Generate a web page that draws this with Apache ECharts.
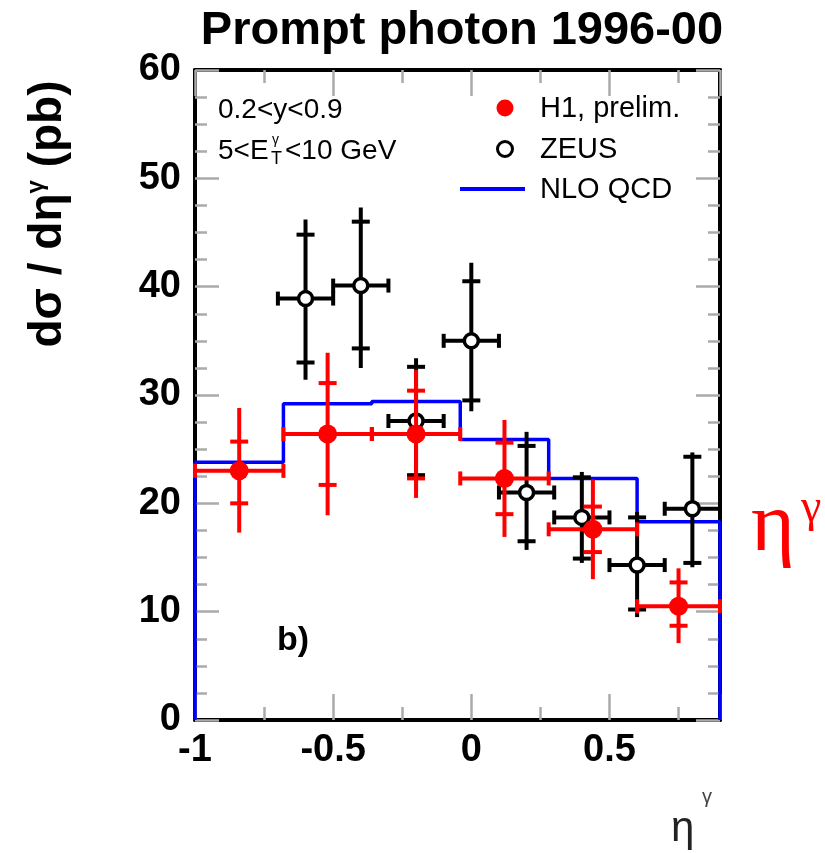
<!DOCTYPE html>
<html><head><meta charset="utf-8">
<script src="https://cdn.jsdelivr.net/npm/echarts@6/dist/echarts.min.js"></script>
<style>html,body{margin:0;padding:0;background:#fff}#c{width:825px;height:853px}</style>
</head><body><div id="c"></div>
<script>
// ---- data ----
const binEdges = [-1, -0.68, -0.36, -0.04, 0.28, 0.6, 0.9];
const nloValues = [23.8, 29.2, 29.4, 25.9, 22.3, 18.3];

const h1X = [-0.84, -0.52, -0.2, 0.12, 0.44, 0.75];
const h1Y = [23.0, 26.4, 26.4, 22.3, 17.6, 10.5];
const h1StatLo = [20.0, 21.7, 22.3, 19.0, 15.5, 8.7];
const h1StatHi = [25.7, 31.1, 30.4, 25.6, 19.7, 12.7];
const h1TotLo = [17.3, 18.9, 20.5, 16.9, 13.0, 7.1];
const h1TotHi = [28.8, 33.9, 32.3, 27.7, 22.2, 14.0];

const zeusX = [-0.6, -0.4, -0.2, 0.0, 0.2, 0.4, 0.6, 0.8];
const zeusXErr = [0.1, 0.1, 0.1, 0.1, 0.1, 0.1, 0.1, 0.1];
const zeusY = [38.9, 40.1, 27.6, 35.0, 21.0, 18.7, 14.3, 19.5];
const zeusStatLo = [33.0, 34.3, 22.6, 29.5, 16.5, 14.9, 10.2, 14.5];
const zeusStatHi = [44.8, 46.0, 32.6, 40.5, 25.3, 22.4, 18.7, 24.3];
const zeusTotLo = [31.4, 32.5, 21.2, 28.5, 15.7, 14.5, 9.5, 14.1];
const zeusTotHi = [46.2, 47.3, 33.4, 42.2, 26.6, 22.9, 19.2, 24.7];

const xMin = -1, xMax = 0.9, xStep = 0.5;
const yMin = 0, yMax = 60, yStep = 10;

// ---- build ----
const nloData = [[binEdges[0], 0]];
nloValues.forEach((v, i) => { nloData.push([binEdges[i], v]); nloData.push([binEdges[i + 1], v]); });
nloData.push([binEdges[binEdges.length - 1], 0]);

const h1Data = h1X.map((x, i) => [x, h1Y[i], binEdges[i], binEdges[i + 1], h1StatLo[i], h1StatHi[i], h1TotLo[i], h1TotHi[i]]);
const zeusData = zeusX.map((x, i) => [x, zeusY[i], x - zeusXErr[i], x + zeusXErr[i], zeusStatLo[i], zeusStatHi[i], zeusTotLo[i], zeusTotHi[i]]);

function makeRender(color, filled) {
  return function (params, api) {
    const x = api.value(0), y = api.value(1);
    const c = api.coord([x, y]);
    const pxl = api.coord([api.value(2), y])[0];
    const pxh = api.coord([api.value(3), y])[0];
    const psl = api.coord([x, api.value(4)])[1];
    const psh = api.coord([x, api.value(5)])[1];
    const ptl = api.coord([x, api.value(6)])[1];
    const pth = api.coord([x, api.value(7)])[1];
    const st = { stroke: color, lineWidth: 4 };
    const capH = 7, capW = 9;
    const L = (x1, y1, x2, y2) => ({ type: 'line', shape: { x1, y1, x2, y2 }, style: st });
    return {
      type: 'group',
      children: [
        L(pxl, c[1], pxh, c[1]),
        L(pxl, c[1] - capH, pxl, c[1] + capH),
        L(pxh, c[1] - capH, pxh, c[1] + capH),
        L(c[0], ptl, c[0], pth),
        L(c[0] - capW, psl, c[0] + capW, psl),
        L(c[0] - capW, psh, c[0] + capW, psh),
        filled
          ? { type: 'circle', shape: { cx: c[0], cy: c[1], r: 9.5 }, style: { fill: color } }
          : { type: 'circle', shape: { cx: c[0], cy: c[1], r: 7 }, style: { fill: '#fff', stroke: color, lineWidth: 3.5 } }
      ]
    };
  };
}

const sans = 'Liberation Sans, Arial, sans-serif';
const serif = 'Liberation Serif, Times New Roman, serif';
const tickStyle = { color: '#aaaaaa', width: 2.5 };
function xAx(pos, labels) {
  return {
    type: 'value', position: pos, min: xMin, max: xMax, interval: xStep,
    axisLine: { show: true, onZero: false, lineStyle: { color: '#000', width: 4 } },
    axisTick: { show: true, inside: true, length: 26, lineStyle: tickStyle },
    minorTick: { show: true, splitNumber: 2, length: 13, lineStyle: tickStyle },
    splitLine: { show: false },
    axisLabel: {
      show: labels, margin: 12, color: '#000', fontSize: 38, fontWeight: 'bold', fontFamily: sans,
      formatter: v => (Math.abs(v / xStep - Math.round(v / xStep)) < 1e-6 ? String(v) : '')
    }
  };
}
function yAx(pos, labels) {
  return {
    type: 'value', position: pos, min: yMin, max: yMax, interval: yStep,
    axisLine: { show: true, onZero: false, lineStyle: { color: '#000', width: 4 } },
    axisTick: { show: true, inside: true, length: 24, lineStyle: tickStyle },
    minorTick: { show: true, splitNumber: 4, length: 12, lineStyle: tickStyle },
    splitLine: { show: false },
    axisLabel: { show: labels, margin: 14, color: '#000', fontSize: 38, fontWeight: 'bold', fontFamily: sans }
  };
}

const chart = echarts.init(document.getElementById('c'), null, { renderer: 'canvas' });
chart.setOption({
  animation: false,
  backgroundColor: '#fff',
  title: {
    text: 'Prompt photon 1996-00', left: 457, top: 3, textAlign: 'center',
    textStyle: { fontSize: 47, fontWeight: 'bold', fontFamily: sans, color: '#000' }
  },
  grid: { left: 195, right: 105, top: 70, bottom: 133 },
  xAxis: [xAx('bottom', true), xAx('top', false)],
  yAxis: [yAx('left', true), yAx('right', false)],
  series: [
    { type: 'line', data: nloData, showSymbol: false, symbol: 'none', z: 2,
      lineStyle: { color: '#0000ff', width: 3.5 } },
    { type: 'custom', data: zeusData, renderItem: makeRender('#000000', false), z: 3,
      encode: { x: 0, y: 1 } },
    { type: 'custom', data: h1Data, renderItem: makeRender('#ff0000', true), z: 4,
      encode: { x: 0, y: 1 } }
  ],
  graphic: [
    // y axis title
    { type: 'text', x: 48, y: 214, rotation: Math.PI / 2, z: 10,
      style: { text: 'dσ / dη{sup|γ} (pb)', textAlign: 'center', textVerticalAlign: 'middle',
        font: 'bold 46px ' + sans, fill: '#000',
        rich: { sup: { fontSize: 24, fontWeight: 'bold', fontFamily: sans, verticalAlign: 'top', padding: [0, 0, 24, 0], fill: '#000' } } } },
    // x axis title
    { type: 'text', x: 671, y: 850, z: 10, style: { text: 'η', font: '42px ' + sans, fill: '#222', textVerticalAlign: 'bottom' } },
    { type: 'text', x: 702, y: 807, z: 10, style: { text: 'γ', font: '20px ' + sans, fill: '#444', textVerticalAlign: 'bottom' } },
    // big red eta
    { type: 'text', x: 751, y: 570, z: 10, style: { text: 'η', font: '84px ' + serif, fill: '#ff0000', textVerticalAlign: 'bottom' } },
    { type: 'text', x: 801, y: 532, z: 10, style: { text: 'γ', font: '46px ' + serif, fill: '#ff0000', textVerticalAlign: 'bottom' } },
    // kinematic range
    { type: 'text', x: 218, y: 110, z: 10, style: { text: '0.2<y<0.9', font: '28px ' + sans, fill: '#000', textVerticalAlign: 'middle' } },
    { type: 'text', x: 218, y: 151, z: 10, style: { text: '5<E', font: '28px ' + sans, fill: '#000', textVerticalAlign: 'middle' } },
    { type: 'text', x: 272, y: 140, z: 10, style: { text: 'γ', font: '14px ' + sans, fill: '#000', textVerticalAlign: 'middle' } },
    { type: 'text', x: 271, y: 159, z: 10, style: { text: 'T', font: '18px ' + sans, fill: '#000', textVerticalAlign: 'middle' } },
    { type: 'text', x: 285, y: 151, z: 10, style: { text: '<10 GeV', font: '28px ' + sans, fill: '#000', textVerticalAlign: 'middle' } },
    // legend
    { type: 'circle', shape: { cx: 505, cy: 108, r: 8.5 }, style: { fill: '#ff0000' }, z: 10 },
    { type: 'text', x: 540, y: 109, z: 10, style: { text: 'H1, prelim.', font: '29px ' + sans, fill: '#000', textVerticalAlign: 'middle' } },
    { type: 'circle', shape: { cx: 505, cy: 149, r: 7.5 }, style: { fill: '#fff', stroke: '#000', lineWidth: 3 }, z: 10 },
    { type: 'text', x: 540, y: 150, z: 10, style: { text: 'ZEUS', font: '29px ' + sans, fill: '#000', textVerticalAlign: 'middle' } },
    { type: 'line', shape: { x1: 460, y1: 189, x2: 525, y2: 189 }, style: { stroke: '#0000ff', lineWidth: 4 }, z: 10 },
    { type: 'text', x: 540, y: 190, z: 10, style: { text: 'NLO QCD', font: '29px ' + sans, fill: '#000', textVerticalAlign: 'middle' } },
    // panel label
    { type: 'text', x: 277, y: 641, z: 10, style: { text: 'b)', font: 'bold 34px ' + sans, fill: '#000', textVerticalAlign: 'middle' } }
  ]
});
</script>
</body></html>
